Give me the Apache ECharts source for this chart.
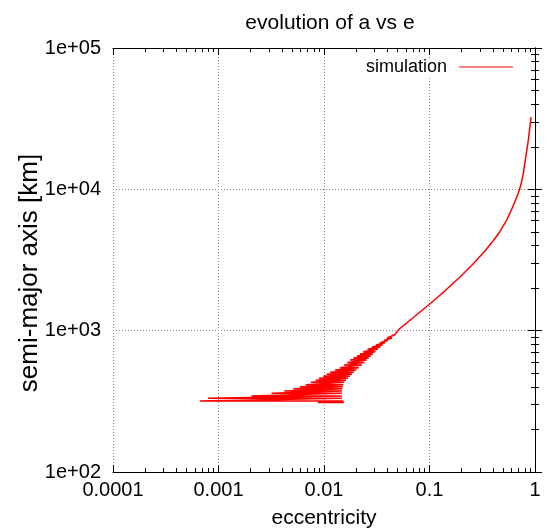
<!DOCTYPE html>
<html><head><meta charset="utf-8">
<script src="https://cdn.jsdelivr.net/npm/echarts@6/dist/echarts.min.js"></script>
<style>html,body{margin:0;padding:0;background:#fff}#c{width:553px;height:531px}</style>
</head><body><div id="c"></div>
<script>
// ---- data ----
const xTickLabels = ['0.0001', '0.001', '0.01', '0.1', '1'];
const yTickLabels = ['1e+02', '1e+03', '1e+04', '1e+05'];
const seriesName = 'simulation';

// oscillation band: semi-major axis level with min / max eccentricity reached
const bandA = [310.4, 318.1, 332.4, 345.1, 360.6, 374.3, 388.6, 401.5, 414.8, 431.3, 445.6, 460.4, 475.7, 491.4, 507.7,
  527.1, 547.2, 571.8, 595.6, 620.4, 641, 662.2, 684.2, 710.4, 738.8, 766.9, 792.3, 822.6, 852.6, 888.1, 932.4];
const bandEmin = [0.00875, 0.000665, 0.000796, 0.002056, 0.003184, 0.004193, 0.005104, 0.005907, 0.006732, 0.007511,
  0.008325, 0.008945, 0.009827, 0.010585, 0.011377, 0.012694, 0.014158, 0.015445, 0.016676, 0.017612, 0.019008,
  0.020517, 0.021907, 0.023546, 0.025812, 0.028474, 0.031075, 0.033912, 0.037009, 0.03952, 0.04457];
const bandEmax = [0.01545, 0.01528, 0.01479, 0.01479, 0.01479, 0.01479, 0.01495, 0.01511, 0.01528, 0.01562, 0.01614,
  0.01686, 0.01761, 0.01840, 0.01921, 0.02029, 0.02143, 0.02288, 0.02417, 0.02536, 0.02667, 0.02786, 0.02911,
  0.03074, 0.03247, 0.03429, 0.03582, 0.03783, 0.04039, 0.04409, 0.04656];

// merged trajectory after the band
const tailE = [0.0513, 0.0653, 0.1, 0.1403, 0.1948, 0.2586, 0.329, 0.4004, 0.4667, 0.54, 0.6026, 0.6618, 0.7066,
  0.7464, 0.7797, 0.8091, 0.8378, 0.8658, 0.8927, 0.9184];
const tailA = [1020, 1185, 1538, 1916, 2399, 2965, 3606, 4313, 5036, 6073, 7265, 8554, 9743,
  11283, 13278, 16153, 19005, 22367, 27202, 32380];

// ---- build series data: each cycle sweeps max -> min, then climbs back to the next max ----
const data = [];
for (let i = 0; i < bandA.length; i++) {
  data.push([bandEmax[i], bandA[i]], [bandEmin[i], bandA[i]]);
}
data.push([bandEmax[bandA.length - 1], bandA[bandA.length - 1]]);
for (let i = 0; i < tailE.length; i++) data.push([tailE[i], tailA[i]]);

const FONT = '"Liberation Sans", Arial, Helvetica, sans-serif';
// tick positions (in decades) for the tick-only axes
const xMajor = [-4, -3, -2, -1, 0];
const yMajor = [2, 3, 4, 5];
function minors(lo, hi) {
  const out = [];
  for (let d = lo; d < hi; d++) for (let k = 2; k <= 9; k++) out.push(d + Math.log10(k));
  return out;
}
const xMinor = minors(-4, 0);
const yMinor = minors(2, 5);

function tickAxis(pos, lo, hi, vals, len, line) {
  return {
    type: 'value', min: lo, max: hi, position: pos,
    axisLine: { show: line, lineStyle: { color: '#000', width: 1 } },
    axisLabel: { show: false },
    splitLine: { show: false },
    axisTick: { show: true, inside: true, length: len, customValues: vals, lineStyle: { color: '#000', width: 1 } }
  };
}

const chart = echarts.init(document.getElementById('c'), null, { renderer: 'canvas' });
chart.setOption({
  animation: false,
  backgroundColor: '#fff',
  title: {
    text: 'evolution of a vs e', left: 325, top: 8, textAlign: 'center',
    textStyle: { fontSize: 21, fontWeight: 'normal', color: '#000', fontFamily: FONT }
  },
  legend: {
    data: [seriesName], right: 38, top: 58, align: 'right', icon: 'rect',
    itemWidth: 54, itemHeight: 1, padding: [0, 2, 0, 4], backgroundColor: '#fff', selectedMode: false,
    textStyle: { fontSize: 18, color: '#000', fontFamily: FONT, padding: [0, 7, 0, 0] }
  },
  grid: { left: 113, right: 18, top: 48, bottom: 59, outerBoundsMode: 'none', containLabel: false },
  xAxis: [
    {
      type: 'log', logBase: 10, min: 1e-4, max: 1, position: 'bottom',
      name: 'eccentricity', nameLocation: 'middle', nameGap: 36, nameMoveOverlap: false,
      nameTextStyle: { fontSize: 21, color: '#000', fontFamily: FONT },
      axisLine: { show: true, lineStyle: { color: '#000', width: 1 } },
      axisTick: { show: true, inside: true, length: 7, lineStyle: { color: '#000' } },
      axisLabel: { show: true, margin: 8, fontSize: 20, color: '#000', fontFamily: FONT,
        formatter: v => xTickLabels[Math.round(Math.log10(v)) + 4] },
      splitLine: { show: true, lineStyle: { color: '#888', type: [1, 2], width: 1 } },
      minorTick: { show: false }, minorSplitLine: { show: false }
    },
    tickAxis('bottom', -4, 0, xMinor, 4, false),
    tickAxis('top', -4, 0, xMajor, 7, true),
    tickAxis('top', -4, 0, xMinor, 4, false)
  ],
  yAxis: [
    {
      type: 'log', logBase: 10, min: 100, max: 100000, position: 'left',
      name: 'semi-major axis [km]', nameLocation: 'middle', nameGap: 70, nameRotate: 90, nameMoveOverlap: false,
      nameTextStyle: { fontSize: 26, color: '#000', fontFamily: FONT, padding: [0, 26, 0, 0] },
      axisLine: { show: true, lineStyle: { color: '#000', width: 1 } },
      axisTick: { show: true, inside: true, length: 7, lineStyle: { color: '#000' } },
      axisLabel: { show: true, margin: 12, fontSize: 20, color: '#000', fontFamily: FONT,
        formatter: v => yTickLabels[Math.round(Math.log10(v)) - 2] },
      splitLine: { show: true, lineStyle: { color: '#888', type: [1, 2], width: 1 } },
      minorTick: { show: false }, minorSplitLine: { show: false }
    },
    tickAxis('left', 2, 5, yMinor, 4, false),
    tickAxis('right', 2, 5, yMajor, 7, true),
    tickAxis('right', 2, 5, yMinor, 4, false)
  ],
  series: [{
    name: seriesName, type: 'line', xAxisIndex: 0, yAxisIndex: 0,
    data: data, showSymbol: false, symbol: 'none', smooth: false,
    lineStyle: { color: '#ff0000', width: 1.5 }, itemStyle: { color: '#ff0000' },
    emphasis: { disabled: true }
  }]
});
</script></body></html>
